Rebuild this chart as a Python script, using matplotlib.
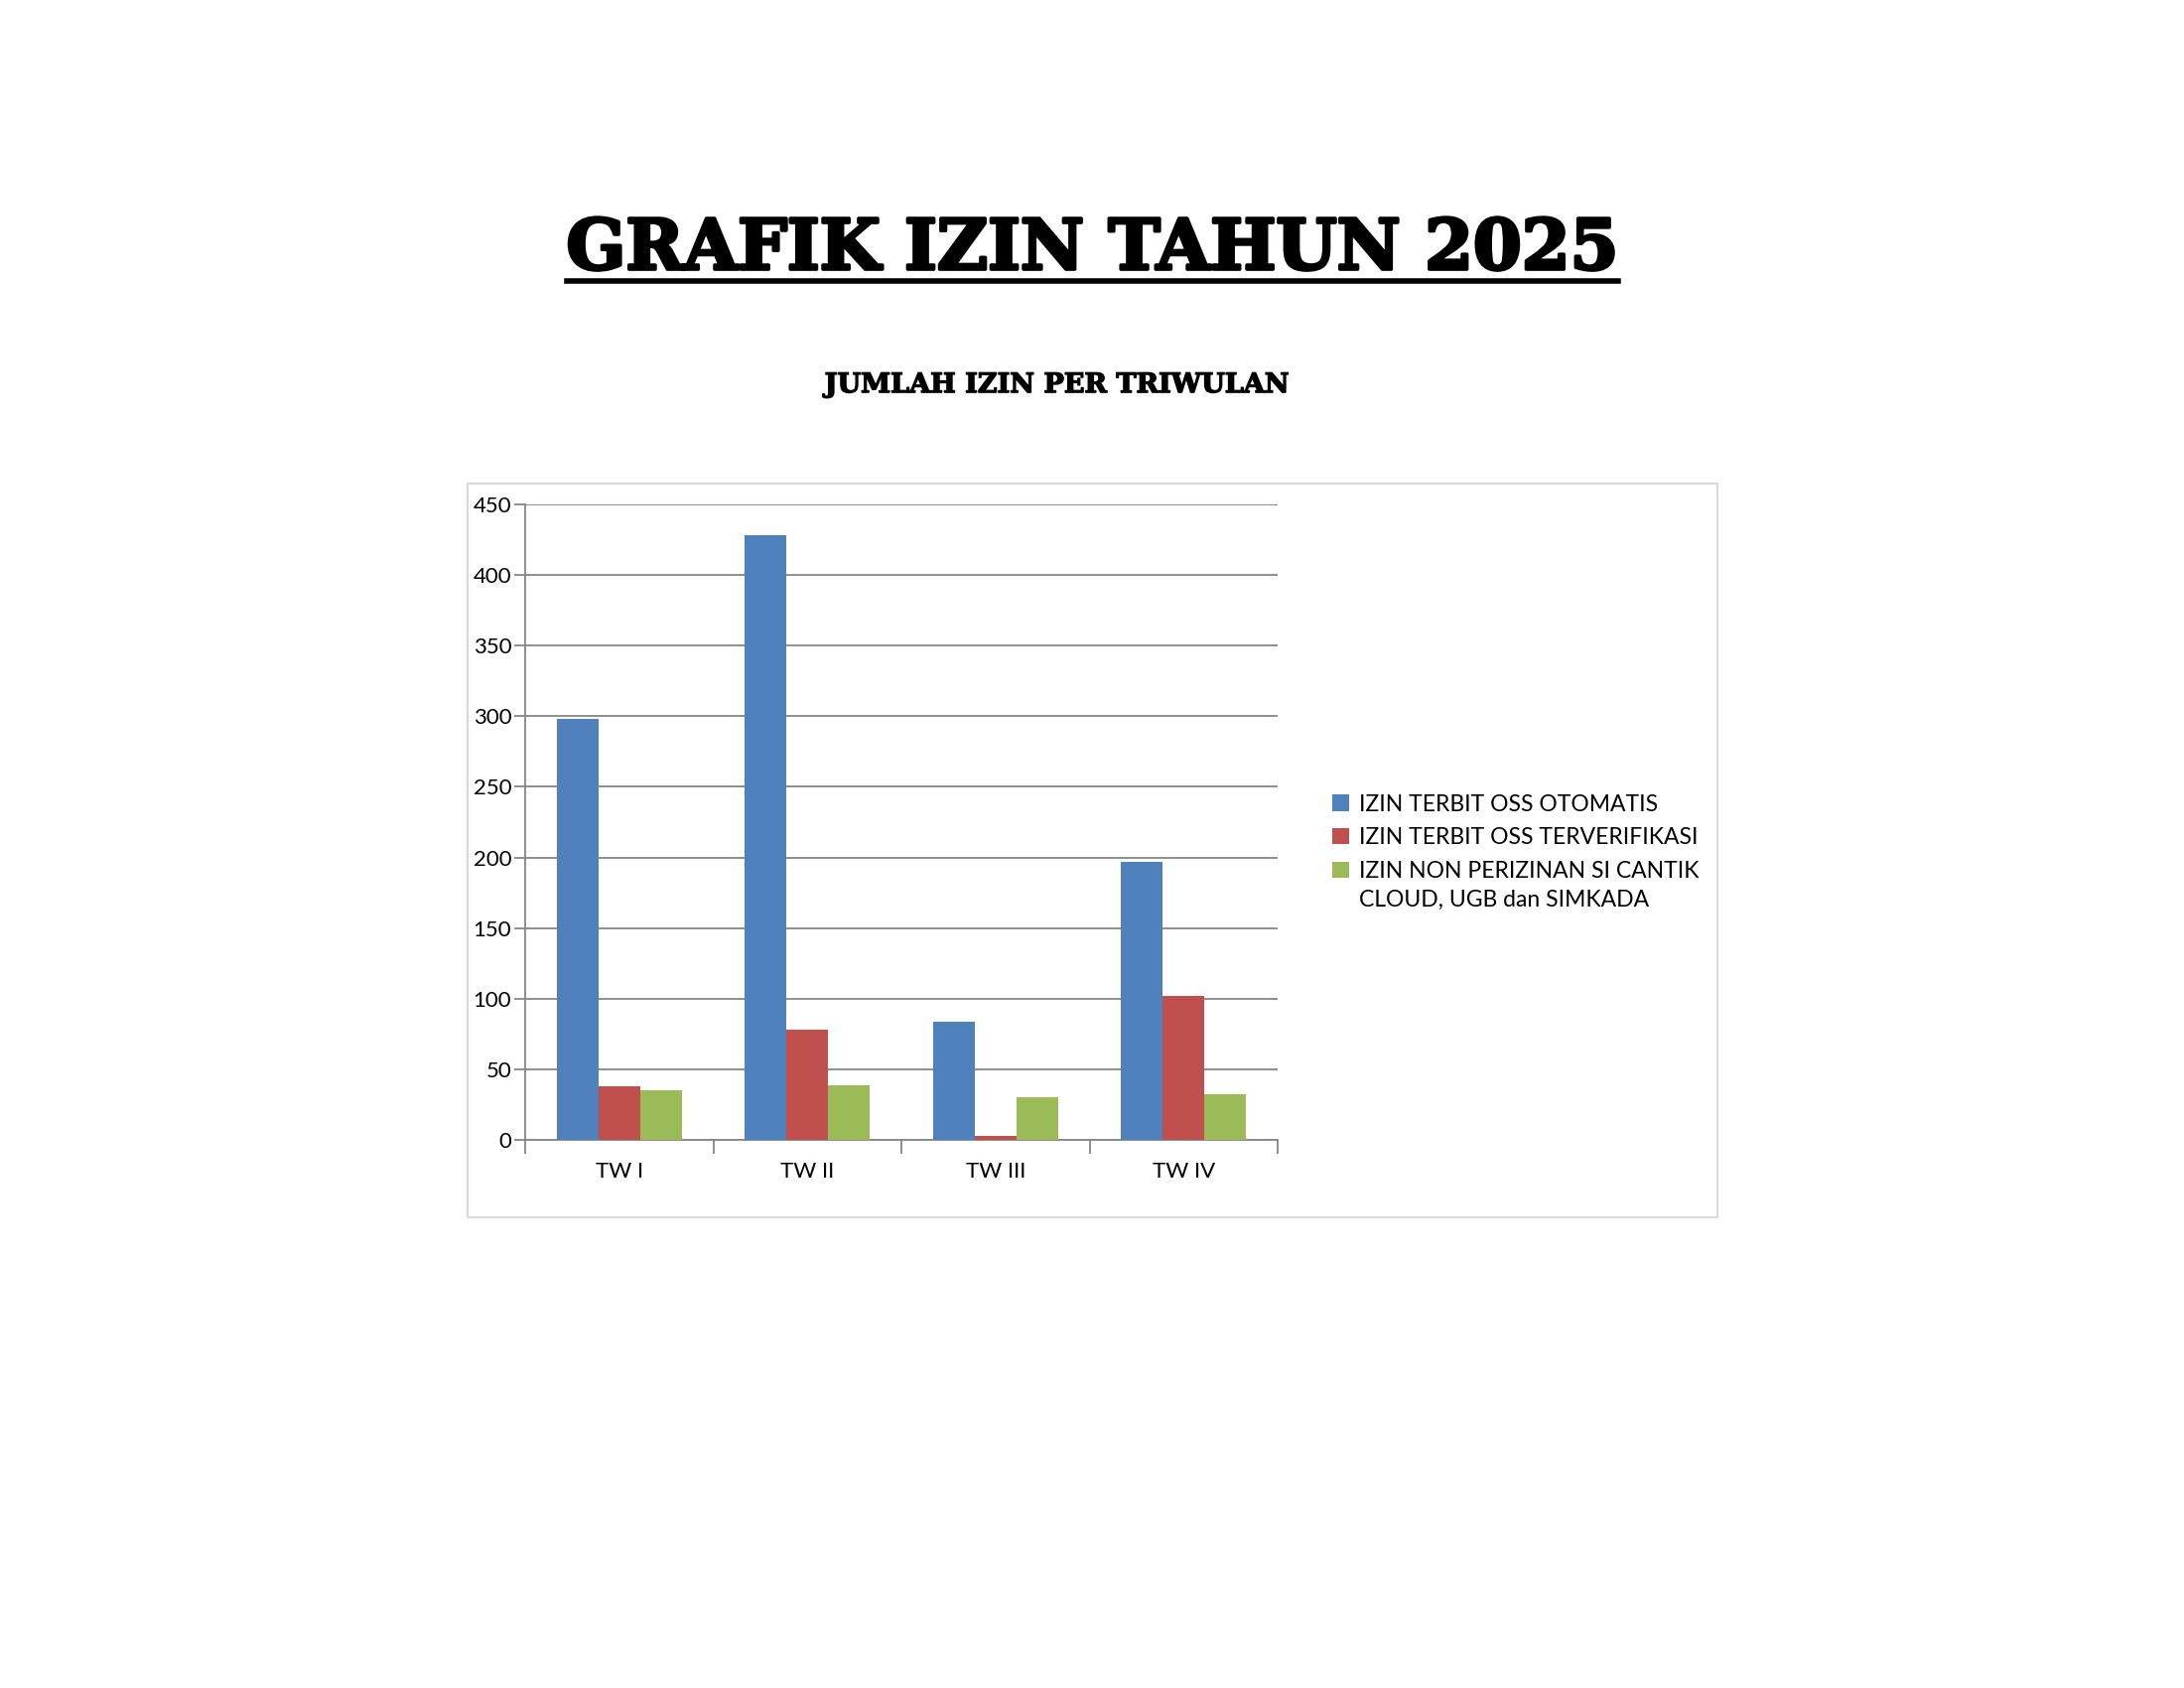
import matplotlib
matplotlib.use("Agg")
import matplotlib.pyplot as plt
import matplotlib.patheffects as pe
import numpy as np
from matplotlib.patches import Rectangle
from matplotlib.lines import Line2D

# data
quarters = ["TW I", "TW II", "TW III", "TW IV"]
series_names = ["IZIN TERBIT OSS OTOMATIS",
                "IZIN TERBIT OSS TERVERIFIKASI",
                "IZIN NON PERIZINAN SI CANTIK\nCLOUD, UGB dan SIMKADA"]
oss_otomatis = [298, 428, 84, 197]
oss_terverifikasi = [38, 78, 3, 102]
non_perizinan = [35, 39, 30, 32]
colors = ["#4F81BD", "#C0504D", "#9BBB59"]

plt.rcParams['font.family'] = ['Lato', 'DejaVu Sans']

fig = plt.figure(figsize=(22, 17), dpi=100)

# chart frame
fig.patches.append(Rectangle((0.2141, 0.2788), 0.5723, 0.4347, transform=fig.transFigure,
                             fill=False, edgecolor="#d9d9d9", linewidth=1.5, zorder=0))

ax = fig.add_axes([0.2405, 0.3247, 0.3445, 0.3765])

x = np.arange(len(quarters))
width = 0.222
for i, (vals, name) in enumerate(zip([oss_otomatis, oss_terverifikasi, non_perizinan], series_names)):
    ax.bar(x + (i - 1) * width, vals, width, color=colors[i], label=name, zorder=3)

ax.set_xlim(-0.5, 3.5)
ax.set_ylim(0, 450)
ax.set_yticks(np.arange(0, 451, 50))
ax.yaxis.grid(True, color="#868686", linewidth=1.3, zorder=0)
ax.set_axisbelow(True)
for s in ["top", "right"]:
    ax.spines[s].set_visible(False)
ax.spines["left"].set_color("#868686")
ax.spines["bottom"].set_color("#868686")
ax.spines["left"].set_linewidth(1.3)
ax.spines["bottom"].set_linewidth(1.3)

# ticks at category boundaries, labels at centres
ax.set_xticks(np.arange(-0.5, 4, 1))
ax.set_xticklabels([])
ax.set_xticks(x, minor=True)
ax.set_xticklabels(quarters, minor=True, fontsize=16)
ax.tick_params(axis="x", which="major", length=10, color="#868686", width=1.3)
ax.tick_params(axis="x", which="minor", length=0, pad=16)
ax.tick_params(axis="y", length=8, color="#868686", width=1.3, labelsize=16, pad=2)

leg_fs = 16.5
leg = fig.legend(loc="upper left", bbox_to_anchor=(0.606, 0.535), frameon=False, fontsize=leg_fs,
                 handlelength=0.72, handleheight=0.72, handletextpad=0.45, labelspacing=0.55,
                 borderaxespad=0)
leg.get_texts()[2].set_linespacing(1.45)
# put the square of the two-line entry next to its first line, like Excel does
h3 = leg.legend_handles[2]
h3.set_y(h3.get_y() + 0.72 * leg_fs)

# titles
title = fig.text(0.5, 0.852, "GRAFIK IZIN TAHUN 2025", ha="center", va="center",
                 fontsize=50.5, fontweight="bold", family="DejaVu Serif",
                 path_effects=[pe.withStroke(linewidth=2.5, foreground="black")])
fig.text(0.484, 0.772, "JUMLAH IZIN PER TRIWULAN", ha="center", va="center",
         fontsize=19.5, fontweight="bold", family="DejaVu Serif",
         path_effects=[pe.withStroke(linewidth=1, foreground="black")])

fig.canvas.draw()
bb = title.get_window_extent().transformed(fig.transFigure.inverted())
fig.add_artist(Line2D([bb.x0, bb.x1], [0.8335, 0.8335], transform=fig.transFigure,
                      color="black", linewidth=4))

fig.savefig("out.png", dpi=100, facecolor="white")
